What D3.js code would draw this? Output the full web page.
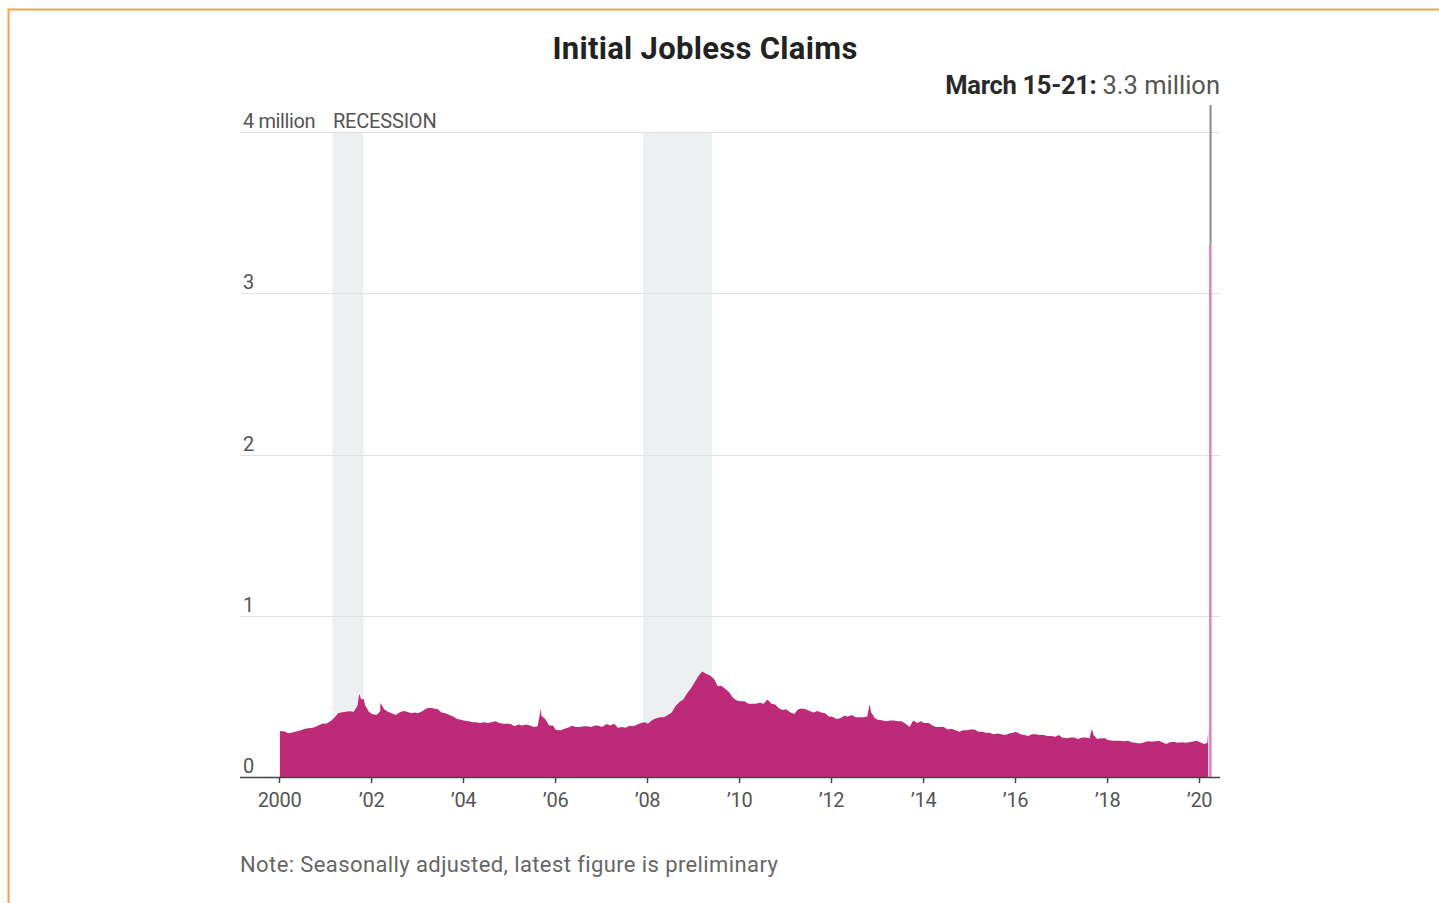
<!DOCTYPE html>
<html>
<head>
<meta charset="utf-8">
<script src="https://cdn.jsdelivr.net/npm/d3@7"></script>
<style>
  html, body { margin: 0; padding: 0; background: #fff; }
  svg { display: block; }
  text { font-family: Roboto, "Noto Sans", sans-serif; }
</style>
</head>
<body>
<div id="chart"></div>
<script>
// Weekly initial jobless claims, thousands (seasonally adjusted), read as monthly levels
const years = d3.range(2000, 2020);
const monthlyClaims = [
  [285, 282, 272, 276, 282, 288, 296, 302, 304, 310, 322, 332], // 2000
  [330, 348, 368, 395, 402, 405, 408, 405, 440, 480, 445, 405], // 2001
  [390, 385, 410, 420, 405, 395, 385, 400, 410, 405, 395, 400], // 2002
  [395, 410, 425, 430, 425, 420, 400, 395, 385, 375, 360, 355], // 2003
  [350, 345, 340, 340, 335, 340, 335, 340, 345, 335, 330, 330], // 2004
  [330, 315, 325, 320, 325, 320, 310, 315, 380, 360, 320, 320], // 2005
  [292, 290, 300, 305, 318, 310, 310, 315, 315, 310, 320, 318], // 2006
  [310, 328, 320, 330, 305, 310, 305, 318, 315, 325, 335, 340], // 2007
  [330, 355, 365, 370, 370, 385, 400, 440, 465, 480, 520, 550], // 2008
  [580, 630, 655, 640, 630, 610, 565, 565, 545, 525, 490, 475], // 2009
  [470, 470, 455, 455, 455, 460, 455, 480, 455, 450, 425, 415], // 2010
  [420, 400, 390, 420, 425, 420, 410, 400, 410, 400, 395, 375], // 2011
  [375, 360, 365, 380, 375, 385, 370, 370, 370, 375, 400, 365], // 2012
  [355, 350, 345, 350, 350, 345, 345, 330, 310, 350, 335, 345], // 2013
  [335, 335, 320, 310, 310, 310, 295, 300, 290, 280, 290, 290], // 2014
  [295, 295, 280, 280, 275, 275, 265, 270, 265, 260, 270, 275], // 2015
  [280, 265, 260, 255, 265, 265, 260, 260, 255, 255, 250, 260], // 2016
  [245, 240, 245, 245, 235, 245, 245, 240, 262, 235, 240, 240], // 2017
  [230, 225, 225, 225, 222, 225, 215, 212, 207, 212, 222, 220], // 2018
  [220, 225, 215, 205, 215, 218, 212, 215, 212, 215, 220, 225]  // 2019
];
// Single-week outliers visible as spikes
const spikeWeeks = [
  ['2001-09-29', 517], ['2001-11-03', 485], ['2002-03-16', 460],
  ['2005-09-10', 424], ['2012-11-03', 451], ['2017-09-02', 298]
];
// 2020 weeks before the surge
const weeks2020 = [
  ['2020-01-11', 215], ['2020-02-08', 205], ['2020-03-07', 211], ['2020-03-14', 282]
];
const latestWeek = { date: '2020-03-21', value: 3307 };

const recessions = [
  ['2001-03-01', '2001-11-01'],
  ['2007-12-01', '2009-06-01']
];
const yTicks = [0, 1000, 2000, 3000, 4000];
const xTicks = d3.range(2000, 2021, 2);

const parse = d3.utcParse('%Y-%m-%d');
let series = [];
years.forEach((yr, i) => {
  monthlyClaims[i].forEach((v, m) => {
    series.push({ date: new Date(Date.UTC(yr, m, m === 0 ? 8 : 15)), value: v });
  });
});
spikeWeeks.forEach(([d, v]) => series.push({ date: parse(d), value: v }));
weeks2020.forEach(([d, v]) => series.push({ date: parse(d), value: v }));
series.sort((a, b) => a.date - b.date);

const width = 1439;
const height = 903;
const plot = { left: 240, right: 1220, top: 132, bottom: 777 };

const svg = d3.select('#chart').append('svg')
  .attr('width', width)
  .attr('height', height);

// frame
svg.append('path')
  .attr('d', `M8.5,${height} V9.5 H${width}`)
  .attr('fill', 'none')
  .attr('stroke', '#f3a24a')
  .attr('stroke-width', 2);

const x = d3.scaleUtc()
  .domain([new Date(Date.UTC(2000, 0, 1)), new Date(Date.UTC(2020, 0, 1))])
  .range([279, 1199]);

const y = d3.scaleLinear()
  .domain([0, 4000])
  .range([plot.bottom, plot.top]);

// recession bands
svg.append('g')
  .selectAll('rect')
  .data(recessions)
  .join('rect')
  .attr('x', (d) => x(parse(d[0])))
  .attr('width', (d) => x(parse(d[1])) - x(parse(d[0])))
  .attr('y', y(4000) + 1)
  .attr('height', plot.bottom - y(4000) - 1)
  .attr('fill', '#edf0f1');

// gridlines
svg.append('g')
  .selectAll('line')
  .data(yTicks.filter((d) => d > 0))
  .join('line')
  .attr('x1', plot.left)
  .attr('x2', plot.right)
  .attr('y1', (d) => Math.round(y(d)) + 0.5)
  .attr('y2', (d) => Math.round(y(d)) + 0.5)
  .attr('stroke', '#e2e2e2')
  .attr('stroke-width', 1);

// y labels
svg.append('g')
  .selectAll('text')
  .data(yTicks)
  .join('text')
  .attr('x', 243)
  .attr('y', (d) => y(d) - 4)
  .attr('font-size', 20)
  .attr('fill', '#555')
  .attr('letter-spacing', -0.4)
  .text((d) => (d === 4000 ? '4 million' : d / 1000));

svg.append('text')
  .attr('x', 333)
  .attr('y', y(4000) - 4)
  .attr('font-size', 20)
  .attr('fill', '#555')
  .attr('letter-spacing', -0.2)
  .text('RECESSION');

// area
const area = d3.area()
  .x((d) => x(d.date))
  .y0(y(0))
  .y1((d) => y(d.value));

svg.append('path')
  .datum(series)
  .attr('d', area)
  .attr('fill', '#bd2a78');

// latest week
const lx = x(parse(latestWeek.date));
svg.append('rect')
  .attr('x', lx)
  .attr('width', 2.5)
  .attr('y', y(latestWeek.value))
  .attr('height', y(0) - y(latestWeek.value))
  .attr('fill', '#e283b6');

svg.append('line')
  .attr('x1', lx + 1.5)
  .attr('x2', lx + 1.5)
  .attr('y1', y(latestWeek.value))
  .attr('y2', 105)
  .attr('stroke', '#8a8a8a')
  .attr('stroke-width', 2);

// x axis
svg.append('line')
  .attr('x1', plot.left)
  .attr('x2', plot.right)
  .attr('y1', plot.bottom + 0.5)
  .attr('y2', plot.bottom + 0.5)
  .attr('stroke', '#444')
  .attr('stroke-width', 1.5);

const xAxis = svg.append('g')
  .attr('transform', `translate(0, ${plot.bottom})`)
  .call(
    d3.axisBottom(x)
      .tickValues(xTicks.map((yr) => new Date(Date.UTC(yr, 0, 1))))
      .tickSize(6)
      .tickPadding(10)
      .tickFormat((d) => {
        let yr = d.getUTCFullYear();
        return yr === 2000 ? '2000' : `\u2019${String(yr % 100).padStart(2, '0')}`;
      })
  );
xAxis.select('.domain').remove();
xAxis.selectAll('line').attr('stroke', '#444').attr('stroke-width', 1.5);
xAxis.selectAll('text')
  .attr('font-size', 20)
  .attr('fill', '#555')
  .attr('letter-spacing', -0.3)
  .style('font-family', 'Roboto, sans-serif');

// title
svg.append('text')
  .attr('x', 705)
  .attr('y', 59)
  .attr('text-anchor', 'middle')
  .attr('font-size', 31)
  .attr('font-weight', 'bold')
  .attr('letter-spacing', 0.3)
  .attr('fill', '#222')
  .text('Initial Jobless Claims');

const label = svg.append('text')
  .attr('x', plot.right)
  .attr('y', 94)
  .attr('text-anchor', 'end')
  .attr('font-size', 25.5)
  .attr('fill', '#333');
label.append('tspan').attr('font-weight', 'bold').attr('fill', '#2a2a2a').attr('letter-spacing', -0.3).text('March 15-21: ');
label.append('tspan').attr('fill', '#555').text('3.3 million');

svg.append('text')
  .attr('x', 240)
  .attr('y', 872)
  .attr('font-size', 22)
  .attr('fill', '#666')
  .attr('letter-spacing', 0.4)
  .text('Note: Seasonally adjusted, latest figure is preliminary');
</script>
</body>
</html>
